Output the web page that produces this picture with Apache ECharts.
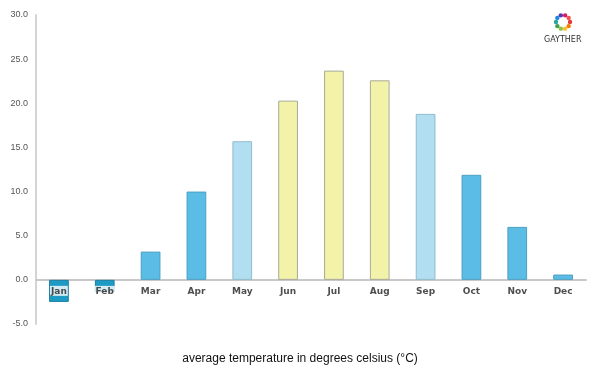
<!DOCTYPE html>
<html>
<head>
<meta charset="utf-8">
<script src="https://cdn.jsdelivr.net/npm/echarts@6/dist/echarts.min.js"></script>
<style>
  html, body { margin: 0; padding: 0; background: #fff; }
  #chart { width: 600px; height: 375px; }
</style>
</head>
<body>
<div id="chart"></div>
<script>
// months and mean temperature (°C)
let months = ['Jan', 'Feb', 'Mar', 'Apr', 'May', 'Jun', 'Jul', 'Aug', 'Sep', 'Oct', 'Nov', 'Dec'];
let temps = [-2.5, -1.4, 3.2, 10.0, 15.7, 20.3, 23.7, 22.6, 18.8, 11.9, 6.0, 0.6];
// colour group per month: 0 cold, 1 cool, 2 mild, 3 warm
let groups = [0, 0, 1, 1, 2, 3, 3, 3, 2, 1, 1, 1];

let fill = ['#1e9bc4', '#5bbde6', '#b1dff1', '#f2f3a9'];
let edge = ['#1a7fa3', '#4a9fc2', '#8fbccc', '#a9a99a'];

let chart = echarts.init(document.getElementById('chart'));

let seriesData = temps.map(function (v, i) {
    return {
        value: v,
        itemStyle: { color: fill[groups[i]], borderColor: edge[groups[i]], borderWidth: 1 }
    };
});

// month names sit on the zero line, so they are drawn as labels of points at 0
let labelPoints = months.map(function (m) { return [m, 0]; });

// little coloured ring for the logo
let logoColors = ['#e53935', '#f57c00', '#fbc02d', '#8bc34a', '#43a047', '#26a69a', '#1e88e5', '#5e35b1', '#d81b60', '#ef5350'];
let logo = logoColors.map(function (c, i) {
    let a = i / logoColors.length * Math.PI * 2;
    return {
        type: 'circle',
        shape: { cx: 563 + Math.cos(a) * 7, cy: 22 + Math.sin(a) * 7, r: 2.2 },
        style: { fill: c }
    };
});
logo.push({
    type: 'text', left: 544, top: 36,
    style: { text: 'GAYTHER', fill: '#333', font: '8px "DejaVu Sans"' }
});

let option = {
    animation: false,
    grid: { left: 36, right: 14, top: 15, bottom: 51 },
    title: {
        text: 'average temperature in degrees celsius (°C)',
        left: 'center',
        top: 348,
        textStyle: { fontFamily: 'Liberation Sans', fontSize: 12, fontWeight: 'normal', color: '#111' }
    },
    xAxis: {
        type: 'category',
        data: months,
        axisLine: { onZero: true, lineStyle: { color: '#c8c8c8', width: 2 } },
        axisTick: { show: false },
        axisLabel: { show: false }
    },
    yAxis: {
        type: 'value',
        min: -5,
        max: 30,
        interval: 5,
        axisLine: { show: true, lineStyle: { color: '#d4d4d4', width: 2 } },
        axisTick: { show: false },
        splitLine: { show: false },
        axisLabel: {
            color: '#555',
            fontSize: 9,
            fontFamily: 'Liberation Sans',
            margin: 8,
            formatter: function (v) { return v.toFixed(1); }
        }
    },
    series: [{
        type: 'bar',
        data: seriesData,
        barWidth: '43%'
    }, {
        type: 'scatter',
        data: labelPoints,
        symbolSize: 0,
        z: 5,
        silent: true,
        label: {
            show: true,
            position: 'bottom',
            distance: 6,
            formatter: function (p) { return p.value[0]; },
            color: '#222',
            fontSize: 9,
            fontWeight: 'bold',
            fontFamily: 'DejaVu Sans',
            backgroundColor: '#fff',
            padding: [1, 1, 0, 1]
        }
    }],
    graphic: logo
};

chart.setOption(option);
</script>
</body>
</html>
